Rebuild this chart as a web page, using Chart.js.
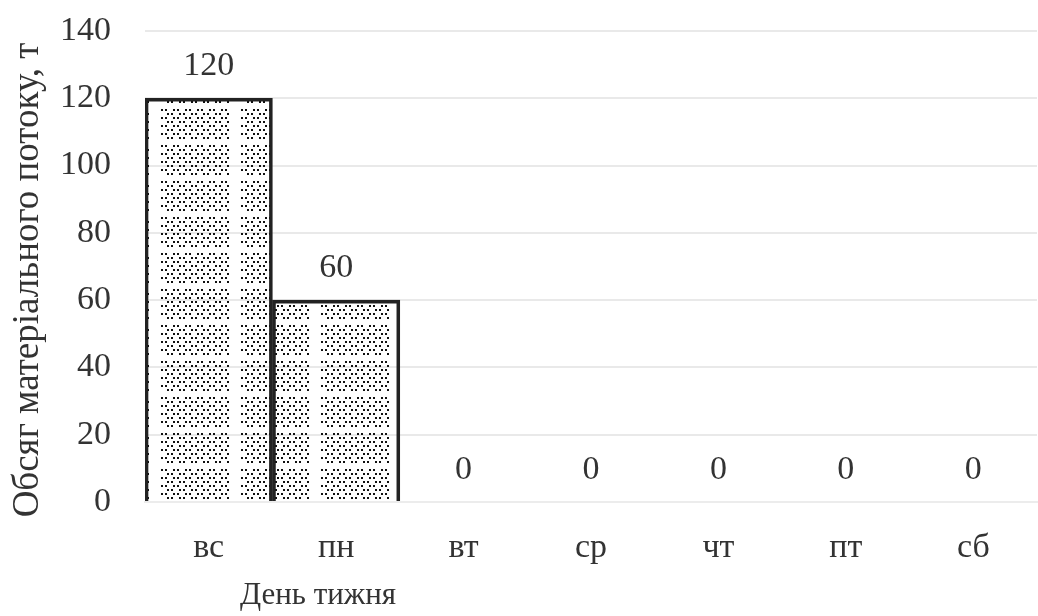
<!DOCTYPE html>
<html>
<head>
<meta charset="utf-8">
<script src="https://cdn.jsdelivr.net/npm/chart.js@4"></script>
<style>
  html, body { margin: 0; padding: 0; background: #fff; }
</style>
</head>
<body>
<canvas id="myChart" width="1038" height="616"></canvas>
<script>
const days = ['вс', 'пн', 'вт', 'ср', 'чт', 'пт', 'сб'];
const volumes = [120, 60, 0, 0, 0, 0, 0];
const yTicks = [0, 20, 40, 60, 80, 100, 120, 140];

const ctx = document.getElementById('myChart');
const serif = 'Liberation Serif, Times New Roman, serif';
const ink = '#333';

// dotted hatch for the bars, with light gaps between dot blocks
const makePattern = () => {
	const tile = document.createElement('canvas');
	tile.width = 80;
	tile.height = 36;
	const t = tile.getContext('2d');
	t.fillStyle = '#111';
	for (let y = 1; y < 30; y += 4) {
		const shift = (y % 8 === 1) ? 0 : 2;
		for (let x = 1 + shift; x < 68; x += 4) {
			if ((x * 7 + y * 3) % 6 === 0) continue;
			t.fillRect(x, y, 2, 2);
		}
	}
	return t.createPattern(tile, 'repeat');
};

// value labels over each bar, plus both axis captions
const valueLabels = {
	id: 'valueLabels',
	afterDatasetsDraw(chart) {
		const c = chart.ctx;
		const meta = chart.getDatasetMeta(0);
		c.save();
		c.font = `34px ${serif}`;
		c.fillStyle = ink;
		c.textAlign = 'center';
		c.textBaseline = 'middle';
		meta.data.forEach((bar, i) => {
			c.fillText(String(volumes[i]), bar.x, bar.y - 32);
		});
		c.font = `31px ${serif}`;
		c.fillText('День тижня', 318, 596);

		c.translate(28, 280);
		c.rotate(-Math.PI / 2);
		c.font = `37px ${serif}`;
		c.fillText('Обсяг матеріального потоку, т', 0, 0);
		c.restore();
	},
};

new Chart(ctx, {
	type: 'bar',
	data: {
		labels: days,
		datasets: [
			{
				data: volumes,
				backgroundColor: makePattern(),
				borderColor: '#222',
				borderWidth: 3,
				categoryPercentage: 1,
				barPercentage: 1,
			},
		],
	},
	options: {
		responsive: false,
		animation: false,
		layout: { padding: { top: 31, right: 1, left: 0, bottom: 0 } },
		plugins: {
			legend: { display: false },
			tooltip: { enabled: false },
		},
		scales: {
			x: {
				grid: { display: false, drawTicks: false },
				border: { display: true, color: '#ececec', width: 2 },
				ticks: { color: ink, font: { family: serif, size: 34 }, padding: 26 },
				afterFit(axis) {
					axis.height = 114;
					axis.paddingLeft = 0;
					axis.paddingRight = 0;
				},
			},
			y: {
				min: 0,
				max: 140,
				afterBuildTicks(axis) { axis.ticks = yTicks.map((v) => ({ value: v })); },
				grid: { color: '#e9e9e9', lineWidth: 2, drawTicks: false },
				border: { display: false },
				ticks: { color: ink, font: { family: serif, size: 34 }, padding: 34 },
				afterFit(axis) {
					axis.width = 145;
					axis.paddingTop = 0;
					axis.paddingBottom = 0;
				},
			},
		},
	},
	plugins: [valueLabels],
});
</script>
</body>
</html>
